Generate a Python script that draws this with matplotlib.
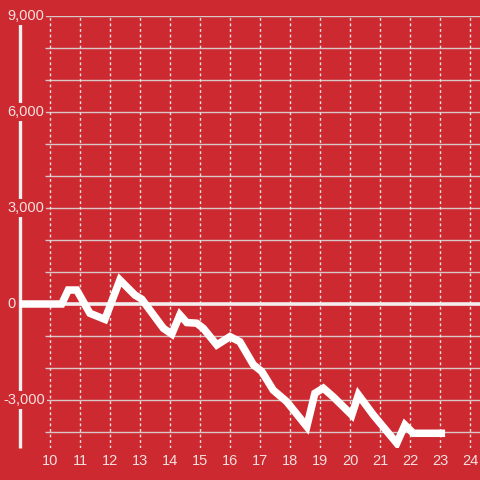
import numpy as np
import matplotlib.pyplot as plt
from matplotlib.transforms import blended_transform_factory, offset_copy

# -- data --
hours = [9.0, 10.39, 10.61, 10.89, 11.33, 11.83, 12.33, 12.83, 13.06, 13.78,
         14.06, 14.33, 14.56, 14.89, 15.11, 15.56, 16.0, 16.33, 16.78, 17.06,
         17.44, 17.89, 18.56, 18.83, 19.11, 19.44, 20.06, 20.28, 20.78, 21.56,
         21.83, 22.11, 23.17]
values = [0, 0, 437, 437, -290, -480, 750, 280, 150, -760,
          -940, -340, -580, -600, -760, -1280, -1020, -1180, -1900, -2110,
          -2690, -3050, -3830, -2790, -2630, -2900, -3470, -2840, -3470, -4350,
          -3780, -4040, -4040]
x_ticks = list(range(10, 25))
y_ticks = [9000, 6000, 3000, 0, -3000]
y_labels = ['9,000', '6,000', '3,000', '0', '-3,000']
y_grid = list(range(-4000, 10000, 1000))

bg = '#cc2a30'
txt = '#f7e0e0'
plt.rcParams['font.family'] = ['Liberation Sans', 'DejaVu Sans']

fig = plt.figure(figsize=(4.8, 4.8), dpi=100, facecolor=bg)
# axes spans pixel x 20..480, y 16..448
ax = fig.add_axes([20 / 480, 32 / 480, 460 / 480, 432 / 480], facecolor=bg)
ax.set_xlim(9, 9 + 460 / 30)
ax.set_ylim(-4500, 9000)
for s in ax.spines.values():
    s.set_visible(False)
ax.set_xticks([])
ax.set_yticks([])

# horizontal grid, starting a bit right of the axis line
x0 = 9 + 25 / 30
ax.hlines(y_grid, x0, ax.get_xlim()[1], color='#d9c6c6', lw=1, zorder=1)
ax.vlines(x_ticks, -4500, 9000, color='#f2e4e4', lw=1, linestyles=(0, (2, 2)), zorder=1)
ax.axhline(0, color='#f4eeee', lw=2.6, zorder=2)

# left axis line
ax.plot([9, 9], [-4500, 8750], color='#f4eeee', lw=2.4, zorder=2, clip_on=False,
        solid_capstyle='butt')

ax.plot(hours, values, color='white', lw=5.4, zorder=4, solid_joinstyle='miter',
        solid_capstyle='butt')

# labels
trans = blended_transform_factory(fig.transFigure, ax.transData)
for v, lab in zip(y_ticks, y_labels):
    xpos = 3 / 480 if lab.startswith('-') else 7 / 480
    ax.text(xpos, v, lab, transform=trans, ha='left', va='center', color=txt,
            fontsize=10.5, zorder=5,
            bbox=dict(facecolor=bg, edgecolor='none', pad=1.5))
xt = offset_copy(ax.transData, fig=fig, y=-13, units='dots')
for h in x_ticks:
    ax.text(h, -4500, str(h), ha='center', va='center', color=txt, fontsize=10.5,
            transform=xt, zorder=5)

fig.savefig('out.png', dpi=100, facecolor=bg)
